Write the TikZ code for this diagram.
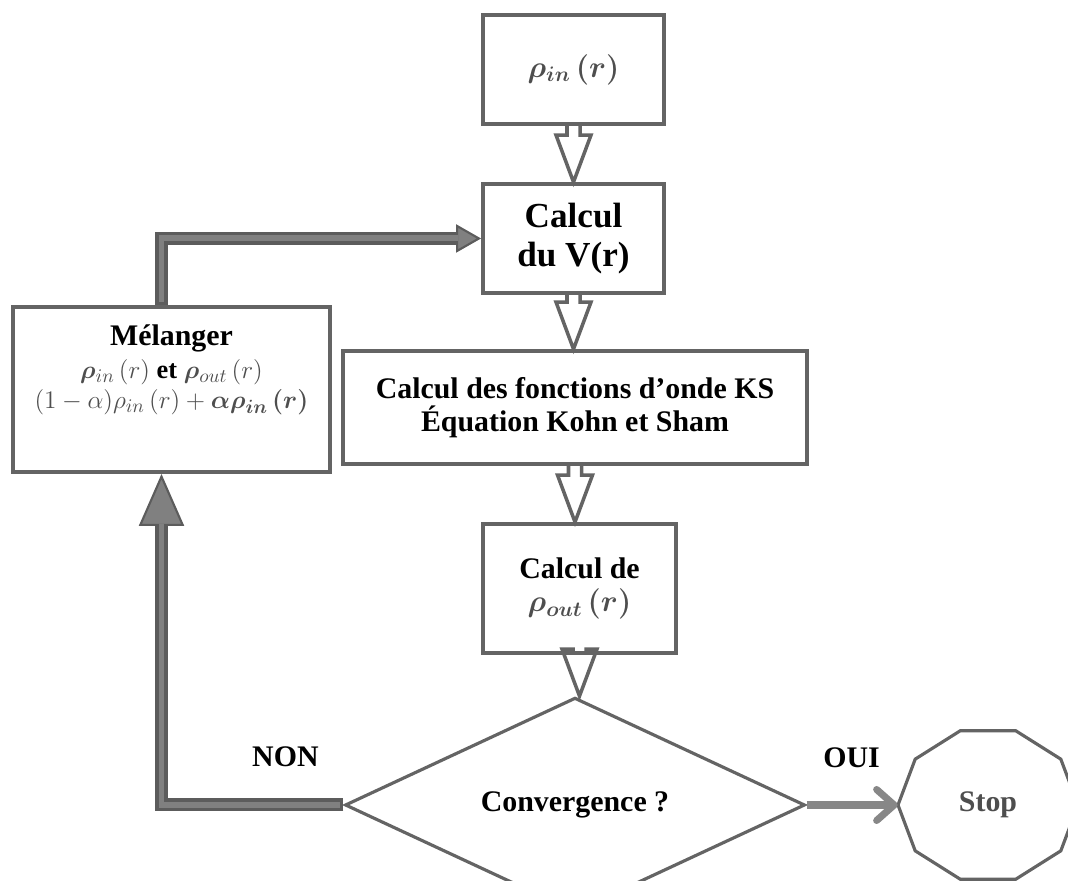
\documentclass[tikz,border=0pt]{standalone}
\usepackage{fontspec}
\setmainfont{Liberation Serif}
\usepackage{amsmath}
\usepackage{bm}
\usetikzlibrary{calc,shapes.geometric,arrows.meta}

\definecolor{boxgray}{RGB}{100,100,100}
\definecolor{darkline}{RGB}{92,92,92}
\definecolor{lightline}{RGB}{128,128,128}
\definecolor{ouigray}{RGB}{135,135,135}
\definecolor{mathgray}{RGB}{78,78,78}

\tikzset{
	box/.style={draw=boxgray, line width=2.2pt, align=center, font=\fontsize{17}{19}\selectfont\bfseries},
	lbl/.style={align=center, font=\fontsize{17}{19}\selectfont\bfseries},
	hollow/.style={draw=boxgray, line width=2pt, line join=miter},
	loopline/.style={draw=darkline, line width=7.4pt},
	loopfill/.style={draw=lightline, line width=3.4pt}
}

% hollow arrow from one box down to the next
\newcommand{\hollowarrow}[2]{%
	\draw [hollow] ($(#1.south)+(-0.13,0)$) |- ($(#1.south |- #2.north)+(-0.35,0.94)$)
		-- (#1.south |- #2.north) -- ($(#1.south |- #2.north)+(0.35,0.94)$) -| ($(#1.south)+(0.13,0)$);
}

\begin{document}
\begin{tikzpicture}
	\clip (0,0) rectangle (21.36,17.62);

	% steps
	\node [box, minimum width=3.62cm, minimum height=2.18cm] (rhoin) at (11.47,16.23) {\fontsize{18}{20}\selectfont\color{mathgray}$\bm{\rho_{in}\,(r)}$};
	\node [box, minimum width=3.62cm, minimum height=2.18cm, font=\fontsize{20}{22}\selectfont\bfseries] (calcv) at (11.47,12.85) {Calcul\\du V(r)};
	\node [box, minimum width=9.28cm, minimum height=2.26cm] (calcks) at (11.5,9.47) {Calcul des fonctions d’onde KS\\Équation Kohn et Sham};
	\node [box, minimum width=3.86cm, minimum height=2.58cm] (rhoout) at (11.59,5.85) {Calcul de\\{\color{mathgray}$\bm{\rho_{out}\,(r)}$}};

	% test
	\node [box, diamond, line width=1.8pt, minimum width=9.2cm, minimum height=3.2cm, inner sep=0pt] (conv) at (11.5,1.52) {Convergence ?};

	% stop
	\node [lbl, text=mathgray, ellipse, minimum width=3.6cm, minimum height=3.12cm] (stop) at (19.76,1.52) {Stop};
	\draw [boxgray, line width=1.8pt] (stop.center) +(0:1.8 and 1.56) \foreach \a in {36,72,...,324} { -- +(\a:1.8 and 1.56) } -- cycle;

	% mixing
	\node [box, minimum width=6.34cm, minimum height=3.3cm] (mix) at (3.43,9.83) {};
	\node [lbl, anchor=north, inner sep=0pt] (mixtext) at ($(mix.north)+(0,-0.38)$) {Mélanger\\
		{\fontsize{15}{16}\selectfont{\color{mathgray}$\bm{\rho}_{in}\,(r)$} et {\color{mathgray}$\bm{\rho}_{out}\,(r)$}}\\[-2pt]
		{\fontsize{15}{16}\selectfont\color{mathgray}$(1-\alpha)\rho_{in}\,(r)+\bm{\alpha\rho_{in}\,(r)}$}};

	% hollow arrows
	\hollowarrow{rhoin}{calcv}
	\hollowarrow{calcv}{calcks}
	\hollowarrow{calcks}{rhoout}
	\hollowarrow{rhoout}{conv}

	% NON back to mixing
	\draw [loopline, -{Triangle[length=1.04cm, width=0.9cm, line width=1.2pt, fill=lightline]}] (conv.west) -| ([xshift=-0.2cm]mix.south);
	\draw [loopfill, shorten <=2pt, shorten >=1.0cm] (conv.west) -| ([xshift=-0.2cm]mix.south);
	\node [lbl] (non) at ($(conv.west)+(-1.16,0.96)$) {NON};

	% mixing to potential
	\draw [loopline, -{Triangle[length=0.5cm, width=0.56cm, line width=1.2pt, fill=lightline]}] ([xshift=-0.2cm]mix.north) |- (calcv.west);
	\draw [loopfill, shorten <=2pt, shorten >=0.46cm] ([xshift=-0.2cm]mix.north) |- (calcv.west);

	% OUI to stop
	\draw [ouigray, line width=4pt, -{Straight Barb[length=0.35cm, width=0.62cm, round]}] (conv.east) -- (stop.west);
	\node [lbl] (oui) at ($(conv.east)+(0.9,0.94)$) {OUI};

\end{tikzpicture}
\end{document}
